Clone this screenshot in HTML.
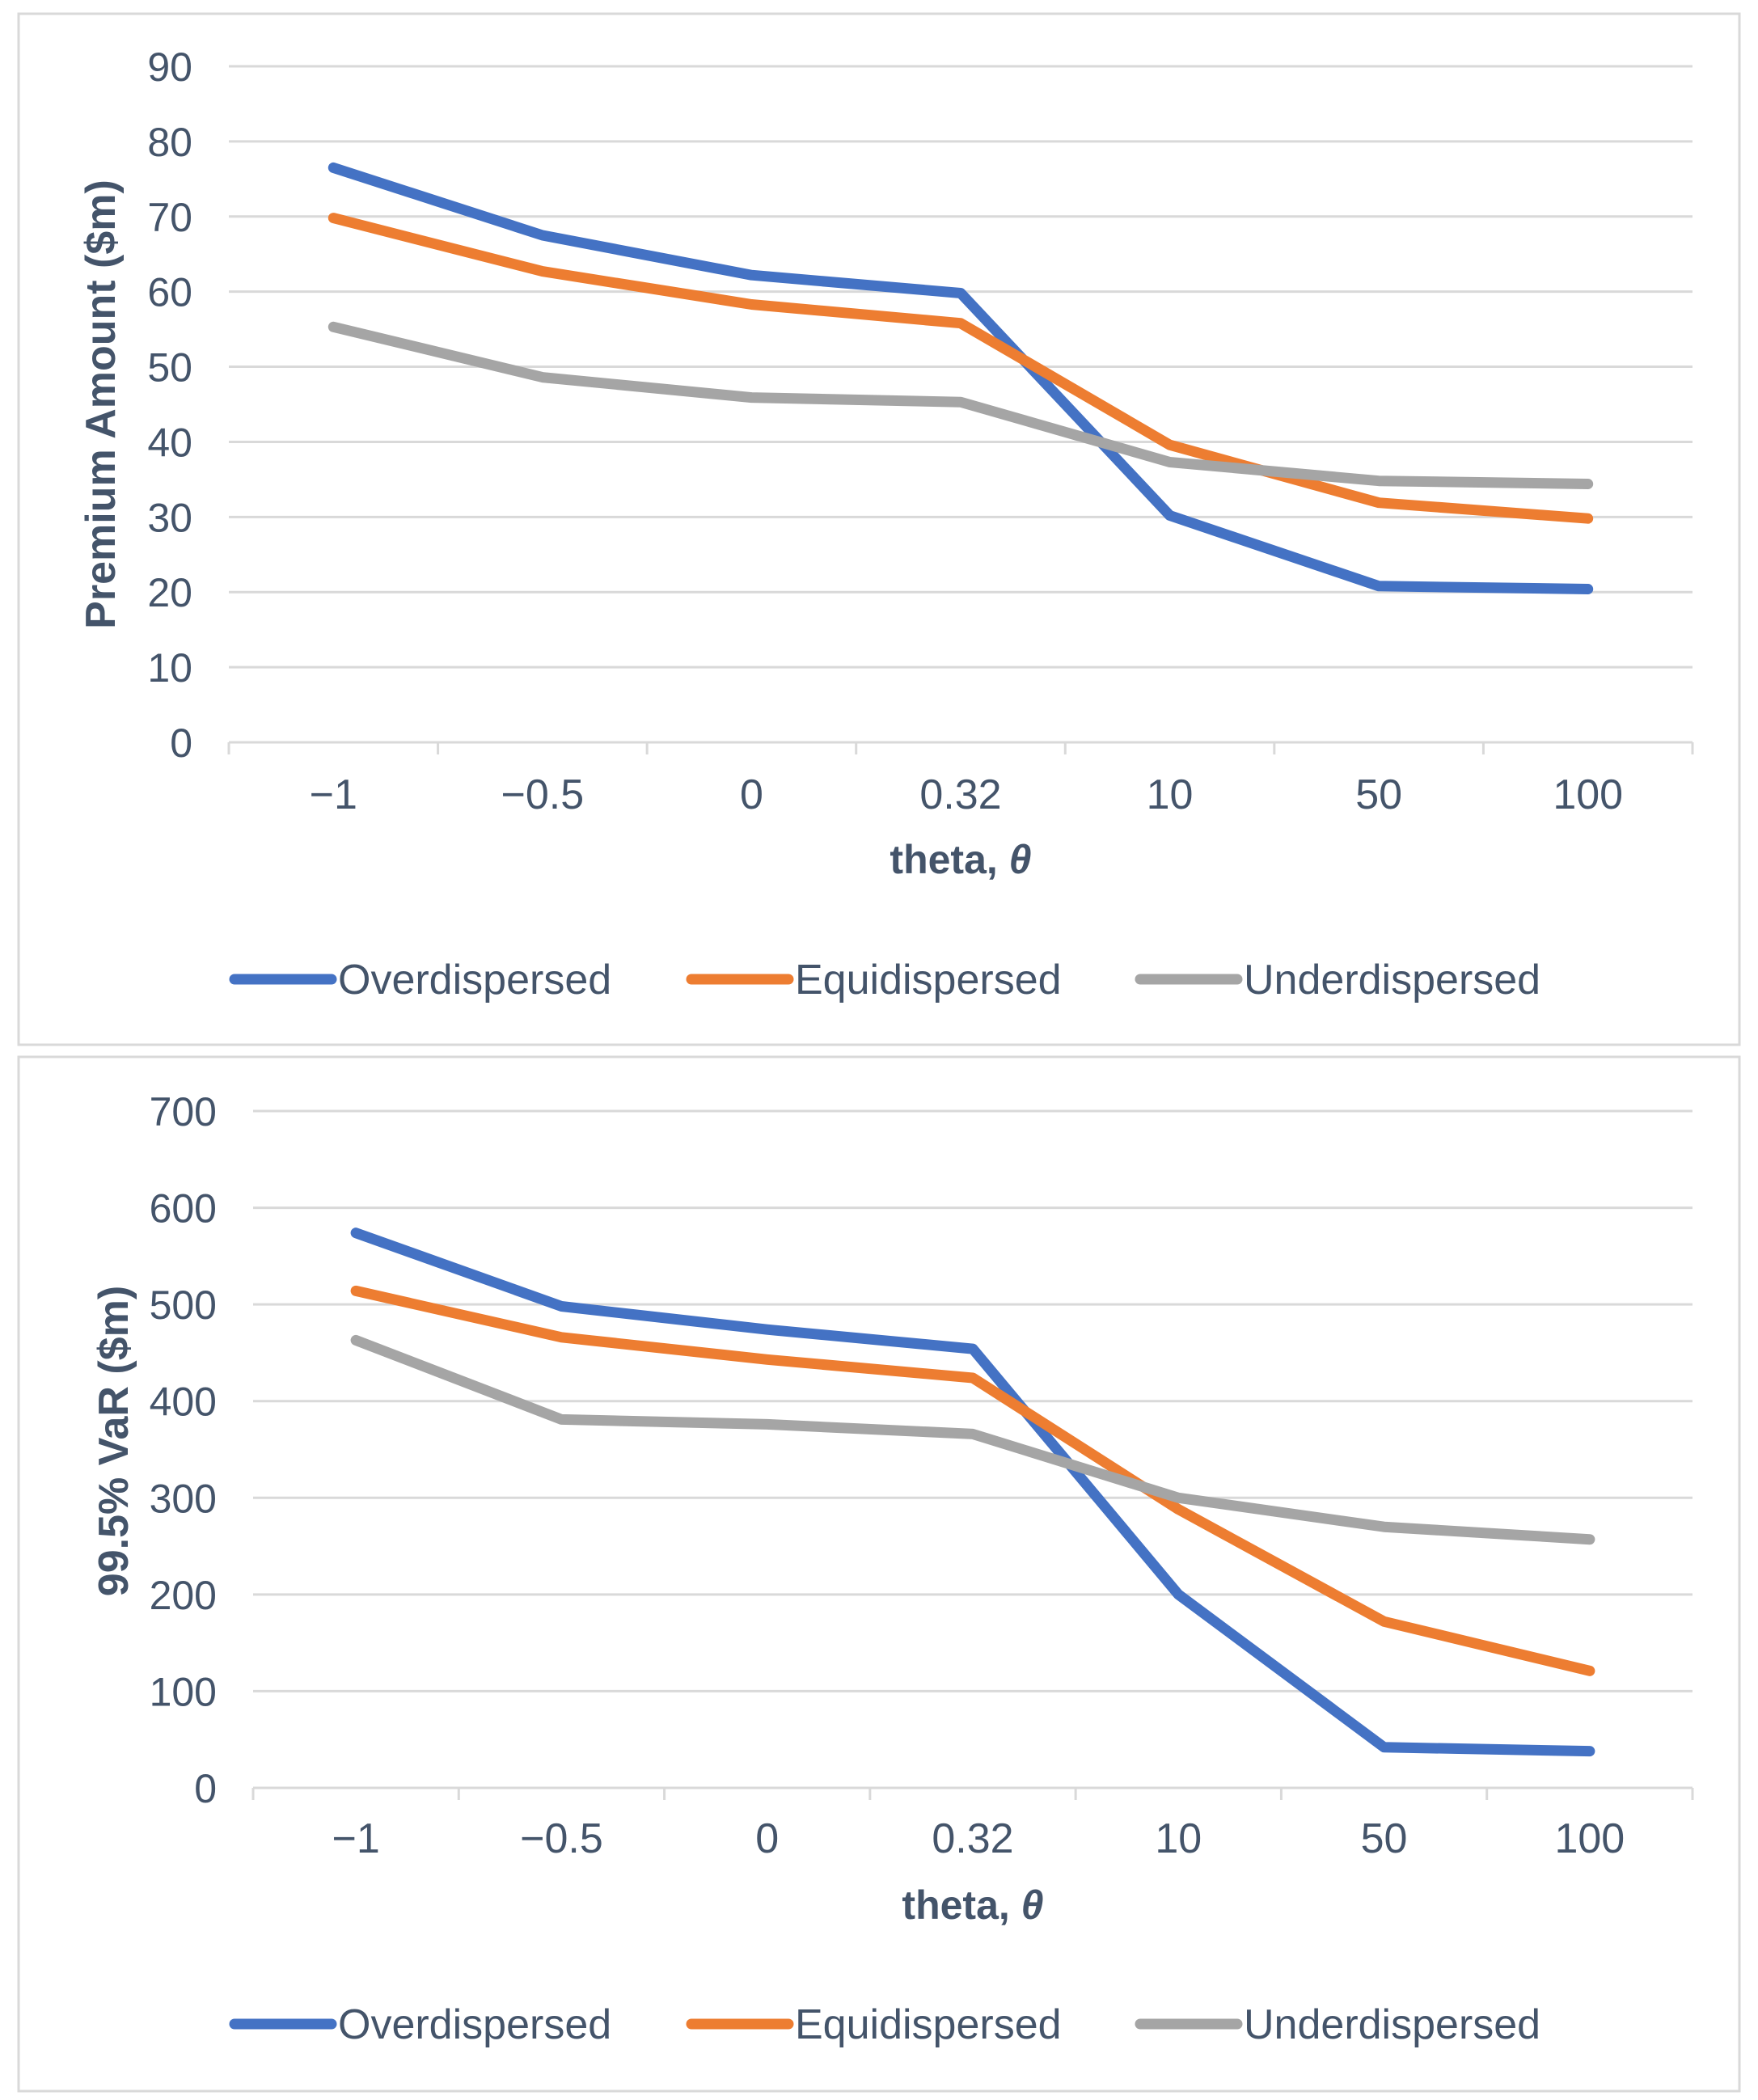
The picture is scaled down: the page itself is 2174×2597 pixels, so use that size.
<!DOCTYPE html>
<html><head><meta charset="utf-8"><style>
html,body{margin:0;padding:0;background:#fff;}
svg{display:block;font-family:"Liberation Sans",sans-serif;}
</style></head><body>
<svg id="s" width="2174" height="2597" viewBox="0 0 2174 2597" xmlns="http://www.w3.org/2000/svg"></svg>
<script>
const categories=["\u22121","\u22120.5","0","0.32","10","50","100"];
const seriesNames=["Overdispersed","Equidispersed","Underdispersed"];
const colors=["#4472C4","#ED7D31","#A5A5A5"];
const premiumOver=[76.5,67.5,62.2,59.8,30.2,20.8,20.4];
const premiumEqui=[69.8,62.7,58.3,55.8,39.6,31.9,29.8];
const premiumUnder=[55.3,48.6,45.9,45.3,37.3,34.8,34.4];
const premiumTicks=[0,10,20,30,40,50,60,70,80,90];
const varOver=[574,498,474,454,200,42,38];
const varEqui=[514,466,443,424,288,172,121];
const varUnder=[463,381,376,366,300,270,257];
const varTicks=[0,100,200,300,400,500,600,700];

const NS="http://www.w3.org/2000/svg";
const svg=document.getElementById('s');
function el(tag,attrs,parent,text){const e=document.createElementNS(NS,tag);for(const k in attrs)e.setAttribute(k,attrs[k]);if(text!==undefined)e.textContent=text;(parent||svg).appendChild(e);return e;}

function chart(cfg){
  const g=el('g',{});
  
  
  const box=el('rect',{x:cfg.box[0],y:cfg.box[1],width:cfg.box[2],height:cfg.box[3],fill:'#fff',stroke:'#D9D9D9','stroke-width':3},g);
  
  
  const x0=cfg.x0,x1=cfg.x1,yTop=cfg.yTop,yBot=cfg.yBot,max=cfg.ticks[cfg.ticks.length-1];
  const n=categories.length,bw=(x1-x0)/n;
  const X=i=>x0+bw*(i+0.5);
  const Y=v=>yBot-(v/max)*(yBot-yTop);
  cfg.ticks.forEach(t=>{
    if(t>0){const l=el('line',{x1:x0,x2:x1,y1:Y(t),y2:Y(t),stroke:'#D9D9D9','stroke-width':3},g);
    
    }
    const tx=el('text',{x:cfg.labelX,y:Y(t)+18,'text-anchor':'end','font-size':50,fill:'#44546A'},g,String(t));
    
    
  });
  const ax=el('line',{x1:x0,x2:x1,y1:yBot,y2:yBot,stroke:'#D9D9D9','stroke-width':3},g);
  
  
  for(let i=0;i<=n;i++){const tk=el('line',{x1:x0+bw*i,x2:x0+bw*i,y1:yBot,y2:yBot+15,stroke:'#D9D9D9','stroke-width':3},g);
    
    }
  categories.forEach((c,i)=>{const t=el('text',{x:X(i),y:cfg.xLabelY,'text-anchor':'middle','font-size':52,fill:'#44546A'},g,c);
    
    });
  const xt=el('text',{x:(x0+x1)/2,y:cfg.xTitleY,'text-anchor':'middle','font-size':50,'font-weight':'bold',fill:'#44546A'},g);
  
  
  el('tspan',{},xt,'theta, ');el('tspan',{'font-style':'italic'},xt,'\u03b8');
  const yt=el('text',{x:0,y:0,'text-anchor':'middle','font-size':52,'font-weight':'bold',fill:'#44546A',transform:`translate(${cfg.yTitleX},${cfg.yTitleY}) rotate(-90)`},g,cfg.yTitle);
  
  
  cfg.series.forEach((s,si)=>{
    const pts=s.map((v,i)=>X(i).toFixed(1)+','+Y(v).toFixed(1)).join(' ');
    const p=el('polyline',{points:pts,fill:'none',stroke:colors[si],'stroke-width':13,'stroke-linejoin':'round','stroke-linecap':'round'},g);
    
    
  });
  const lx=[290,855,1410];
  seriesNames.forEach((nm,i)=>{
    const lg=el('g',{},g);
    
    
    el('line',{x1:lx[i],x2:lx[i]+120,y1:cfg.legendY,y2:cfg.legendY,stroke:colors[i],'stroke-width':13,'stroke-linecap':'round'},lg);
    el('text',{x:lx[i]+128,y:cfg.legendY+18,'font-size':52,fill:'#44546A'},lg,nm);
  });
}
chart({name:'premium-chart',box:[23,17,2128,1275],x0:283,x1:2093,yTop:82,yBot:918,ticks:premiumTicks,labelX:238,
  xLabelY:1000,xTitleY:1080,yTitle:'Premium Amount ($m)',yTitleX:142,yTitleY:500,legendY:1211,
  series:[premiumOver,premiumEqui,premiumUnder]});
chart({name:'var-chart',box:[23,1307,2128,1279],x0:313,x1:2093,yTop:1374,yBot:2211,ticks:varTicks,labelX:268,
  xLabelY:2291,xTitleY:2373,yTitle:'99.5% VaR ($m)',yTitleX:158,yTitleY:1782,legendY:2503,
  series:[varOver,varEqui,varUnder]});
</script>
</body></html>
